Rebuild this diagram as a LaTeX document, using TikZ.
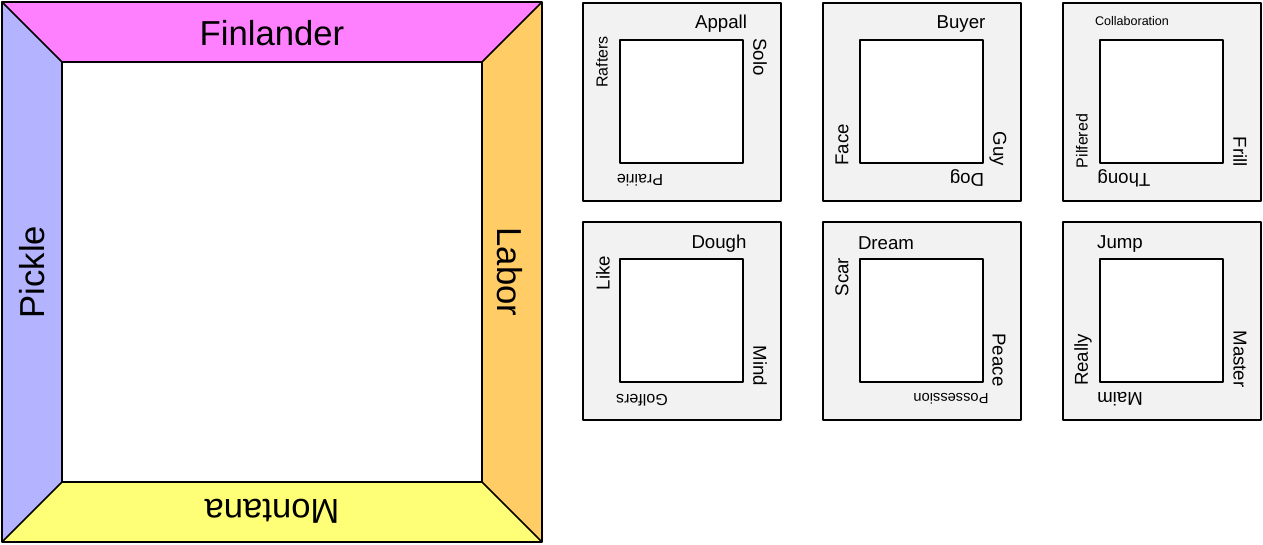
\documentclass[tikz,border=0pt]{standalone}
\usepackage{fontspec}
\setmainfont{Liberation Sans}
\usepackage{tikz}
\definecolor{topside}{HTML}{FF80FF}
\definecolor{leftside}{HTML}{B3B3FF}
\definecolor{rightside}{HTML}{FFCC66}
\definecolor{bottomside}{HTML}{FFFF77}
\tikzset{tile/.style={draw=black,line width=1.1pt,fill=black!5},
  hole/.style={draw=black,line width=1.5pt,fill=white},
  biglbl/.style={font=\fontsize{26}{26}\selectfont,inner sep=0pt},
  lbl/.style={font=\fontsize{14}{14}\selectfont,inner sep=0pt},
  smllbl/.style={font=\fontsize{12}{12}\selectfont,inner sep=0pt},
  tinylbl/.style={font=\fontsize{9.4}{9.4}\selectfont,inner sep=0pt}}

\begin{document}
\begin{tikzpicture}[x=0.75pt,y=-0.75pt,line join=round]
\useasboundingbox (0,0) rectangle (1263,545);
% --- big frame with four coloured sides
\fill[topside] (2,2) -- (542,2) -- (482,62) -- (62,62) -- cycle;
\fill[leftside] (2,2) -- (62,62) -- (62,482) -- (2,542) -- cycle;
\fill[rightside] (542,2) -- (542,542) -- (482,482) -- (482,62) -- cycle;
\fill[bottomside] (2,542) -- (62,482) -- (482,482) -- (542,542) -- cycle;
\draw[line width=1.5pt] (2,2) rectangle (542,542);
\draw[line width=1.2pt] (2,2) -- (62,62) (542,2) -- (482,62) (542,542) -- (482,482) (2,542) -- (62,482);
\draw[line width=1.5pt,fill=white] (62,62) rectangle (482,482);
\node[biglbl] (finlander) at (272,33) {Finlander};
\node[biglbl,rotate=90] (pickle) at (32,272) {Pickle};
\node[biglbl,rotate=-90] (labor) at (510,272) {Labor};
\node[biglbl,rotate=180] (montana) at (272,511) {Montana};
% --- six small frames
\foreach \x/\y in {583/3,823/3,1063/3,583/222,823/222,1063/222}{
  \draw[tile] (\x,\y) rectangle ++(198,198);
  \draw[hole] (\x+37,\y+37) rectangle ++(123,123);
}
% row 1
\node[lbl] (appall) at (721,24) {Appall};
\node[lbl,rotate=-90] (solo) at (760,57) {Solo};
\node[smllbl,rotate=90] (rafters) at (602,62) {Rafters};
\node[smllbl,rotate=180] (prairie) at (640,180) {Prairie};
\node[lbl] (buyer) at (961,24) {Buyer};
\node[lbl,rotate=90] (face) at (842,145) {Face};
\node[lbl,rotate=-90] (guy) at (998,149) {Guy};
\node[lbl,rotate=180] (dog) at (967,178) {Dog};
\node[tinylbl] (collab) at (1132,21) {Collaboration};
\node[smllbl,rotate=90] (pilfered) at (1082,141) {Pilfered};
\node[lbl,rotate=-90] (frill) at (1240,152) {Frill};
\node[lbl,rotate=180] (thong) at (1124,178) {Thong};
% row 2
\node[lbl] (dough) at (719,244) {Dough};
\node[lbl,rotate=90] (like) at (603,273) {Like};
\node[lbl,rotate=-90] (mind) at (760,366) {Mind};
\node[smllbl,rotate=180] (golfers) at (642,400) {Golfers};
\node[lbl] (dream) at (886,243) {Dream};
\node[lbl,rotate=90] (scar) at (842,277) {Scar};
\node[lbl,rotate=-90] (peace) at (999,360) {Peace};
\node[smllbl,font=\fontsize{11}{11}\selectfont,rotate=180] (possession) at (951,399) {Possession};
\node[lbl] (jump) at (1120,244) {Jump};
\node[lbl,rotate=90] (really) at (1083,360) {Really};
\node[lbl,rotate=-90] (master) at (1240,359) {Master};
\node[lbl,rotate=180] (maim) at (1120,399) {Maim};
\end{tikzpicture}
\end{document}
